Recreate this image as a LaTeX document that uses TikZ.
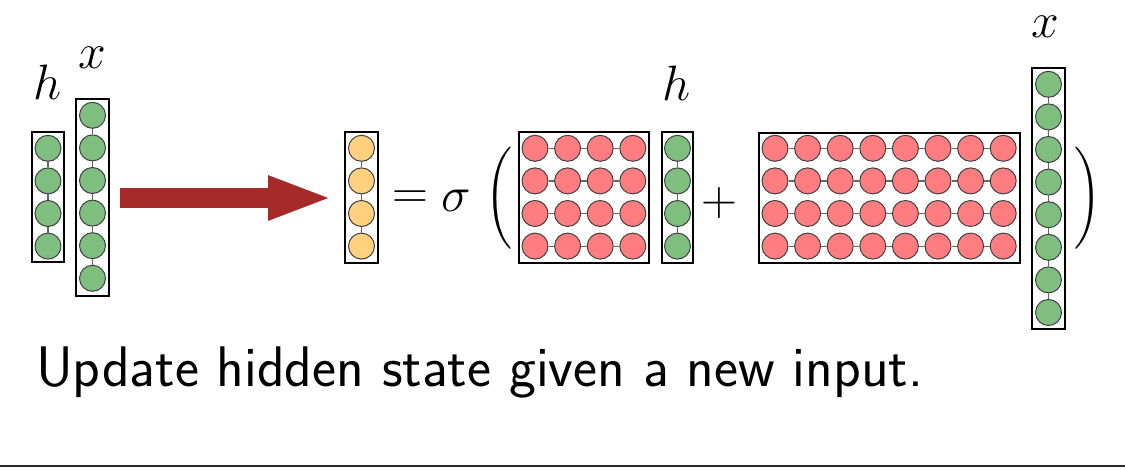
\documentclass[tikz,border=0pt]{standalone}
\usetikzlibrary{arrows.meta}

\definecolor{ingreen}{RGB}{126,190,126}
\definecolor{wred}{RGB}{255,124,128}
\definecolor{outyellow}{RGB}{255,208,126}
\definecolor{arrred}{RGB}{165,42,42}

\tikzset{
  unit/.style={circle, draw=black!75, line width=0.5pt, minimum size=13pt, inner sep=0pt},
  link/.style={draw=black!60, line width=0.6pt},
  frame/.style={draw=black, line width=1.2pt},
  sym/.style={font=\fontsize{24}{28}\selectfont, inner sep=1pt},
}

\begin{document}
\begin{tikzpicture}[x=0.5pt, y=-0.5pt]
    \useasboundingbox (0,0) rectangle (1125,471);

    % h (links)
    \draw[frame] (32,132) rectangle (64,262);
    \foreach \i in {1,...,4}
        \node[unit, fill=ingreen] (ha\i) at (48,{115.7+32.6*\i}) {};
    \foreach \i [count=\j from 2] in {1,2,3}
        \draw[link] (ha\i) -- (ha\j);
    \node[sym] (hlabA) at (48,82) {$h$};

    % x (links)
    \draw[frame] (76,99) rectangle (109,296);
    \foreach \i in {1,...,6}
        \node[unit, fill=ingreen] (xa\i) at (92.5,{82.7+32.6*\i}) {};
    \foreach \i [count=\j from 2] in {1,...,5}
        \draw[link] (xa\i) -- (xa\j);
    \node[sym] (xlabA) at (92,58) {$x$};

    % grosser Pfeil
    \coordinate (astart) at (120,198);
    \coordinate (aend) at (333,198);
    \draw[arrred, line width=10pt, -{Triangle[length=32.5pt, width=20pt]}] (astart) -- (aend);

    % neuer Zustand
    \draw[frame] (345,132) rectangle (378,263);
    \foreach \i in {1,...,4}
        \node[unit, fill=outyellow] (hn\i) at (361.5,{115.7+32.6*\i}) {};
    \foreach \i [count=\j from 2] in {1,2,3}
        \draw[link] (hn\i) -- (hn\j);

    \node[sym] (eq) at (410,200) {$=$};
    \node[sym] (sig) at (456,201) {$\sigma$};
    \node[inner sep=0pt] (lpar) at (499,198) {\resizebox*{!}{51pt}{$\Bigg($}};

    % W_hh
    \draw[frame] (519,132) rectangle (649,263);
    \foreach \r in {1,...,4}
        \foreach \c in {1,...,4}
            \node[unit, fill=wred] (wa-\r-\c) at ({502.4+32.6*\c},{115.7+32.6*\r}) {};
    \foreach \r in {1,...,4}
        \foreach \c [count=\d from 2] in {1,2,3}
            \draw[link] (wa-\r-\c) -- (wa-\r-\d);

    % h (rechts)
    \draw[frame] (662,132) rectangle (693,263);
    \foreach \i in {1,...,4}
        \node[unit, fill=ingreen] (hb\i) at (677.5,{115.7+32.6*\i}) {};
    \foreach \i [count=\j from 2] in {1,2,3}
        \draw[link] (hb\i) -- (hb\j);
    \node[sym] (hlabB) at (677,83) {$h$};

    \node[sym] (plus) at (719,203) {$+$};

    % W_xh
    \draw[frame] (759,133) rectangle (1020,263);
    \foreach \r in {1,...,4}
        \foreach \c in {1,...,8}
            \node[unit, fill=wred] (wb-\r-\c) at ({742.4+32.6*\c},{115.7+32.6*\r}) {};
    \foreach \r in {1,...,4}
        \foreach \c [count=\d from 2] in {1,...,7}
            \draw[link] (wb-\r-\c) -- (wb-\r-\d);

    % x (rechts)
    \draw[frame] (1032,68) rectangle (1065,329);
    \foreach \i in {1,...,8}
        \node[unit, fill=ingreen] (xb\i) at (1048.5,{51.7+32.6*\i}) {};
    \foreach \i [count=\j from 2] in {1,...,7}
        \draw[link] (xb\i) -- (xb\j);
    \node[sym] (xlabB) at (1045,27) {$x$};

    \node[inner sep=0pt] (rpar) at (1088,198) {\resizebox*{!}{51pt}{$\Bigg)$}};

    \node[anchor=base west, font=\sffamily\fontsize{28.6}{33}\selectfont] (caption) at (29,386)
        {Update hidden state given a new input.};

    \draw[black!85, line width=1pt] (0,466) -- (1125,466);
\end{tikzpicture}
\end{document}
